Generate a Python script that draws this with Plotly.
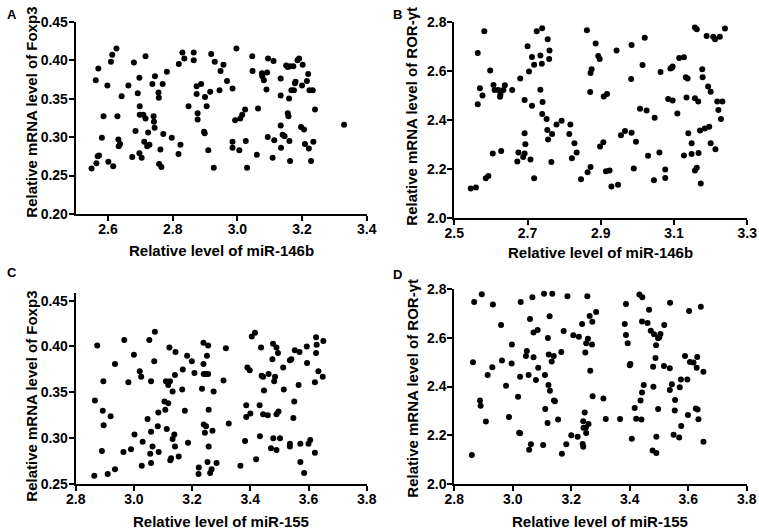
import plotly.graph_objects as go

W, H = 759, 530

# A: miR-146b vs Foxp3
a_x = [2.549, 2.564, 2.568, 2.572, 2.562, 2.570, 2.598, 2.581, 2.586, 2.601,
       2.609, 2.613, 2.616, 2.626, 2.629, 2.632, 2.633, 2.637, 2.642, 2.663,
       2.675, 2.680, 2.685, 2.692, 2.697, 2.698, 2.697, 2.698, 2.704, 2.709,
       2.712, 2.716, 2.716, 2.721, 2.724, 2.728, 2.737, 2.741, 2.742, 2.744,
       2.745, 2.756, 2.757, 2.758, 2.762, 2.765, 2.769, 2.771, 2.782, 2.797,
       2.818, 2.819, 2.824, 2.830, 2.836, 2.849, 2.865, 2.865, 2.874, 2.874,
       2.877, 2.877, 2.888, 2.897, 2.899, 2.900, 2.905, 2.910, 2.916, 2.919,
       2.927, 2.930, 2.945, 2.948, 2.957, 2.968, 2.985, 2.985, 2.985, 2.993,
       2.997, 3.006, 3.009, 3.015, 3.024, 3.026, 3.030, 3.046, 3.047, 3.060,
       3.064, 3.076, 3.077, 3.082, 3.090, 3.092, 3.094, 3.095, 3.109, 3.112,
       3.114, 3.134, 3.134, 3.134, 3.135, 3.140, 3.146, 3.151, 3.156, 3.156,
       3.158, 3.160, 3.161, 3.163, 3.163, 3.167, 3.173, 3.175, 3.178, 3.180,
       3.186, 3.191, 3.197, 3.200, 3.202, 3.206, 3.209, 3.215, 3.219, 3.221,
       3.223, 3.228, 3.233, 3.235, 3.240, 3.330]
a_y = [0.259, 0.266, 0.275, 0.276, 0.374, 0.389, 0.367, 0.299, 0.327, 0.268,
       0.398, 0.407, 0.262, 0.415, 0.327, 0.297, 0.288, 0.291, 0.353, 0.367,
       0.274, 0.397, 0.308, 0.357, 0.377, 0.340, 0.279, 0.329, 0.273, 0.329,
       0.294, 0.324, 0.405, 0.288, 0.306, 0.290, 0.369, 0.327, 0.320, 0.312,
       0.379, 0.358, 0.351, 0.265, 0.284, 0.261, 0.369, 0.304, 0.385, 0.299,
       0.278, 0.395, 0.290, 0.410, 0.402, 0.340, 0.410, 0.400, 0.356, 0.366,
       0.331, 0.323, 0.369, 0.307, 0.305, 0.352, 0.340, 0.283, 0.359, 0.408,
       0.260, 0.398, 0.361, 0.386, 0.394, 0.373, 0.363, 0.294, 0.286, 0.322,
       0.415, 0.283, 0.324, 0.329, 0.336, 0.295, 0.260, 0.405, 0.386, 0.277,
       0.337, 0.383, 0.379, 0.374, 0.362, 0.384, 0.300, 0.402, 0.273, 0.399,
       0.296, 0.376, 0.315, 0.354, 0.286, 0.303, 0.301, 0.393, 0.391, 0.331,
       0.327, 0.350, 0.295, 0.269, 0.392, 0.361, 0.392, 0.361, 0.370, 0.372,
       0.400, 0.402, 0.313, 0.367, 0.394, 0.310, 0.291, 0.373, 0.382, 0.285,
       0.361, 0.269, 0.361, 0.294, 0.336, 0.316]

# B: miR-146b vs ROR-yt
b_x = [2.545, 2.559, 2.564, 2.564, 2.570, 2.577, 2.582, 2.586, 2.593, 2.598,
       2.605, 2.607, 2.610, 2.620, 2.625, 2.626, 2.634, 2.638, 2.628,
       2.658, 2.680, 2.700, 2.704, 2.712, 2.718, 2.725, 2.740, 2.735, 2.739,
       2.755, 2.760, 2.759, 2.735, 2.741, 2.692, 2.712, 2.740, 2.752, 2.779,
       2.793, 2.817, 2.814, 2.828, 2.834, 2.821, 2.692, 2.694, 2.754, 2.767,
       2.756, 2.675, 2.692, 2.688, 2.672, 2.708, 2.765, 2.718, 2.846, 2.864,
       2.872, 2.862, 2.886, 2.893, 2.897, 2.875, 2.872, 2.871, 2.908, 2.917,
       2.898, 2.907, 2.914, 2.924, 2.929, 2.947, 2.943, 2.984, 2.983, 2.955,
       2.966, 2.984, 2.996, 2.990, 3.007, 3.025, 3.020, 3.014, 3.029, 3.047,
       3.060, 3.045, 3.076, 3.076, 3.063, 3.090, 3.094, 3.096, 3.084, 3.096,
       3.114, 3.109,
       3.127, 3.127, 3.132, 3.134, 3.137, 3.139, 3.148, 3.148, 3.157, 3.157,
       3.162, 3.157, 3.162, 3.166, 3.167, 3.171, 3.173, 3.177, 3.178, 3.184,
       3.189, 3.193, 3.196, 3.200, 3.200, 3.207, 3.212, 3.213, 3.218, 3.221,
       3.225, 3.228, 3.232, 3.239]
b_y = [2.121, 2.125, 2.464, 2.673, 2.529, 2.500, 2.761, 2.163, 2.172, 2.601,
       2.264, 2.542, 2.522, 2.522, 2.495, 2.504, 2.522, 2.541, 2.274,
       2.522, 2.569, 2.700, 2.597, 2.656, 2.625, 2.761, 2.773, 2.662, 2.629,
       2.729, 2.683, 2.648, 2.523, 2.473, 2.481, 2.458, 2.424, 2.404, 2.382,
       2.397, 2.382, 2.343, 2.305, 2.268, 2.244, 2.346, 2.301, 2.359, 2.343,
       2.321, 2.268, 2.264, 2.249, 2.231, 2.239, 2.229, 2.163, 2.159, 2.187,
       2.209, 2.765, 2.711, 2.660, 2.648, 2.607, 2.591, 2.514, 2.496, 2.506,
       2.292, 2.309, 2.191, 2.194, 2.129, 2.137, 2.683, 2.705, 2.567, 2.338,
       2.355, 2.348, 2.311, 2.203, 2.446, 2.439, 2.735, 2.624, 2.255, 2.409,
       2.268, 2.155, 2.199, 2.164, 2.595, 2.610, 2.613, 2.618, 2.485, 2.479,
       2.652, 2.426,
       2.256, 2.655, 2.574, 2.492, 2.569, 2.346, 2.305, 2.262, 2.488, 2.776,
       2.769, 2.194, 2.206, 2.475, 2.266, 2.357, 2.142, 2.607, 2.574, 2.365,
       2.742, 2.536, 2.373, 2.515, 2.305, 2.739, 2.729, 2.281, 2.475, 2.441,
       2.739, 2.404, 2.475, 2.772]

# C: miR-155 vs Foxp3
c_x = [2.864, 2.866, 2.874, 2.893, 2.895, 2.896, 2.890, 2.910, 2.920, 2.935,
       2.935, 2.967, 2.964, 2.981, 2.990, 3.000, 3.002, 3.020, 3.027, 3.030,
       3.025, 3.047,
       3.053, 3.072, 3.070, 3.059, 3.059, 3.064, 3.056, 3.059, 3.082, 3.085,
       3.084, 3.105, 3.108, 3.118, 3.110, 3.124, 3.118, 3.133, 3.141, 3.122,
       3.143, 3.113, 3.133, 3.139, 3.141, 3.128, 3.125, 3.154, 3.166, 3.168,
       3.175, 3.183, 3.199, 3.208, 3.186, 3.239, 3.255, 3.251, 3.239, 3.240,
       3.248, 3.255, 3.234, 3.274, 3.308, 3.316, 3.257, 3.240, 3.248, 3.244,
       3.270, 3.257, 3.253, 3.267, 3.262, 3.284, 3.223, 3.222, 3.326, 3.366,
       3.382, 3.386, 3.386, 3.400, 3.390, 3.398, 3.405, 3.416, 3.437, 3.420,
       3.433, 3.439, 3.444, 3.447, 3.432, 3.444, 3.460, 3.463, 3.478, 3.490,
       3.495, 3.476, 3.485, 3.482, 3.490, 3.497, 3.513, 3.515, 3.479, 3.471,
       3.490, 3.502, 3.536, 3.541, 3.553, 3.569, 3.551, 3.566, 3.548, 3.536,
       3.536, 3.572, 3.572, 3.585, 3.594, 3.595, 3.600,
       3.622, 3.622, 3.626, 3.626, 3.628, 3.634, 3.649, 3.651, 3.606]
c_y = [0.259, 0.341, 0.401, 0.330, 0.362, 0.314, 0.286, 0.261, 0.324, 0.266,
       0.381, 0.407, 0.285, 0.361, 0.288, 0.391, 0.304, 0.373, 0.270, 0.296,
       0.367, 0.321,
       0.407, 0.416, 0.384, 0.362, 0.307, 0.291, 0.283, 0.273, 0.313, 0.285,
       0.328, 0.340, 0.331, 0.338, 0.362, 0.362, 0.358, 0.351, 0.369, 0.399,
       0.394, 0.310, 0.299, 0.304, 0.291, 0.278, 0.276, 0.280, 0.353, 0.375,
       0.330, 0.390, 0.384, 0.371, 0.295, 0.404, 0.401, 0.390, 0.381, 0.370,
       0.370, 0.370, 0.354, 0.351, 0.363, 0.398, 0.331, 0.315, 0.313, 0.306,
       0.308, 0.291, 0.274, 0.266, 0.262, 0.273, 0.268, 0.261, 0.316, 0.270,
       0.297, 0.336, 0.323, 0.327, 0.377, 0.374, 0.411, 0.415, 0.399, 0.277,
       0.302, 0.368, 0.367, 0.352, 0.336, 0.326, 0.325, 0.370, 0.403, 0.399,
       0.393, 0.386, 0.367, 0.362, 0.326, 0.329, 0.377, 0.353, 0.300, 0.289,
       0.287, 0.300, 0.385, 0.386, 0.396, 0.394, 0.340, 0.358, 0.322, 0.294,
       0.291, 0.294, 0.274, 0.262, 0.400, 0.382, 0.294,
       0.361, 0.284, 0.393, 0.410, 0.402, 0.373, 0.367, 0.406, 0.298]

# D: miR-155 vs ROR-yt
d_x = [2.860, 2.864, 2.868, 2.894, 2.888, 2.890, 2.908, 2.914, 2.930, 2.932,
       2.960, 2.963, 2.977, 2.987, 2.996, 2.997, 3.018, 3.022,
       3.027, 3.067, 3.107, 3.135, 3.187, 3.255, 3.059, 3.126, 3.071, 3.085,
       3.120, 3.174, 3.207, 3.226, 3.237, 3.263, 3.272, 3.285, 3.257, 3.251,
       3.271, 3.248, 3.048, 3.045, 3.071, 3.123, 3.140, 3.133, 3.166, 3.087,
       3.265, 3.025, 3.054, 3.079, 3.110, 3.122, 3.127, 3.141, 3.144, 3.273,
       3.310, 3.111, 3.119, 3.155, 3.246, 3.241, 3.242, 3.250, 3.259, 3.251,
       3.025, 3.200, 3.222, 3.183, 3.239, 3.241, 3.168, 3.062, 3.056, 3.104,
       3.318, 3.367, 3.387, 3.383, 3.387, 3.393, 3.400, 3.402, 3.433, 3.443,
       3.466, 3.442, 3.461, 3.518, 3.538, 3.603, 3.472, 3.483, 3.497, 3.505,
       3.501, 3.490, 3.488, 3.480, 3.517, 3.537, 3.589, 3.606, 3.448, 3.442,
       3.481, 3.437, 3.417, 3.422, 3.440, 3.497, 3.537, 3.544, 3.571, 3.575,
       3.597, 3.555, 3.554, 3.576, 3.550, 3.569, 3.599, 3.407, 3.491, 3.478,
       3.491,
       3.643, 3.652, 3.652, 3.635, 3.632, 3.626, 3.631, 3.629, 3.618]
d_y = [2.119, 2.499, 2.747, 2.778, 2.343, 2.321, 2.256, 2.447, 2.479, 2.736,
       2.652, 2.507, 2.403, 2.275, 2.494, 2.572, 2.358, 2.210,
       2.747, 2.766, 2.781, 2.781, 2.770, 2.770, 2.677, 2.688, 2.622, 2.632,
       2.599, 2.628, 2.610, 2.604, 2.656, 2.689, 2.666, 2.706, 2.596, 2.577,
       2.572, 2.539, 2.546, 2.525, 2.520, 2.531, 2.525, 2.503, 2.542, 2.477,
       2.465, 2.440, 2.447, 2.427, 2.447, 2.406, 2.383, 2.343, 2.339, 2.360,
       2.351, 2.308, 2.250, 2.265, 2.293, 2.257, 2.231, 2.232, 2.246, 2.209,
       2.208, 2.200, 2.194, 2.163, 2.164, 2.153, 2.124, 2.163, 2.141, 2.160,
       2.267, 2.267, 2.738, 2.656, 2.611, 2.577, 2.487, 2.492, 2.777, 2.766,
       2.715, 2.667, 2.661, 2.652, 2.744, 2.710, 2.629, 2.614, 2.598, 2.615,
       2.602, 2.569, 2.517, 2.481, 2.484, 2.475, 2.525, 2.501, 2.406, 2.375,
       2.399, 2.343, 2.312, 2.268, 2.265, 2.308, 2.386, 2.409, 2.397, 2.429,
       2.429, 2.345, 2.302, 2.238, 2.202, 2.191, 2.283, 2.186, 2.194, 2.137,
       2.127,
       2.727, 2.461, 2.173, 2.266, 2.306, 2.310, 2.521, 2.477, 2.498]

x_titles = ["Relative level of miR-146b", "Relative level of miR-146b",
            "Relative level of miR-155", "Relative level of miR-155"]
y_titles = ["Relative mRNA level of Foxp3", "Relative mRNA level of ROR-γt",
            "Relative mRNA level of Foxp3", "Relative mRNA level of ROR-γt"]
letters = ["A", "B", "C", "D"]

FONT = "Liberation Sans, Arial, sans-serif"

# pixel boxes of each plot area: left, right, top, bottom
boxes = [(75.7, 366.7, 21.7, 214.0),
         (454.3, 747.3, 21.7, 218.3),
         (75.7, 366.7, 293.3, 484.0),
         (454.3, 746.7, 289.0, 484.0)]
x_ranges = [[2.5, 3.4], [2.5, 3.3], [2.8, 3.8], [2.8, 3.8]]
y_ranges = [[0.20, 0.45], [2.0, 2.8], [0.25, 0.458], [2.0, 2.8]]
x_ticks = [[2.6, 2.8, 3.0, 3.2, 3.4], [2.5, 2.7, 2.9, 3.1, 3.3],
           [2.8, 3.0, 3.2, 3.4, 3.6, 3.8], [2.8, 3.0, 3.2, 3.4, 3.6, 3.8]]
y_ticks = [[0.20, 0.25, 0.30, 0.35, 0.40, 0.45], [2.0, 2.2, 2.4, 2.6, 2.8],
           [0.25, 0.30, 0.35, 0.40, 0.45], [2.0, 2.2, 2.4, 2.6, 2.8]]
y_dec = [2, 1, 2, 1]

# title / letter positions in pixels
ytitle_pos = [(31.7, 112), (411.7, 116), (31.7, 396), (411.7, 388)]
xtitle_pos = [(221, 250), (600, 252), (221, 521), (600, 521)]
letter_pos = [(12, 15), (397, 15), (12, 272), (397, 274)]

data = [(a_x, a_y), (b_x, b_y), (c_x, c_y), (d_x, d_y)]


def bold_labels(vals, dec):
    return ["<b>%.*f</b>" % (dec, v) for v in vals]


fig = go.Figure()
layout = {}
annotations = []
for i, (xs, ys) in enumerate(data):
    n = "" if i == 0 else str(i + 1)
    fig.add_trace(go.Scatter(
        x=xs, y=ys, mode="markers", xaxis="x" + n, yaxis="y" + n,
        marker=dict(color="black", size=6), hoverinfo="x+y",
    ))
    l, r, t, b = boxes[i]
    axis_common = dict(
        showline=True, linecolor="black", linewidth=2, mirror=False,
        ticks="outside", ticklen=5, tickwidth=2, tickcolor="black",
        showgrid=False, zeroline=False, automargin=False,
        tickfont=dict(family=FONT, size=14, color="black"),
    )
    layout["xaxis" + n] = dict(
        axis_common, domain=[l / W, r / W], range=x_ranges[i],
        tickmode="array", tickvals=x_ticks[i], ticklabelstandoff=-4,
        ticktext=bold_labels(x_ticks[i], 1), anchor="y" + n,
    )
    layout["yaxis" + n] = dict(
        axis_common, domain=[1 - b / H, 1 - t / H], range=y_ranges[i],
        tickmode="array", tickvals=y_ticks[i], ticklabelstandoff=-2,
        ticktext=bold_labels(y_ticks[i], y_dec[i]), anchor="x" + n,
    )
    tx, ty = xtitle_pos[i]
    annotations.append(dict(
        x=tx / W, y=1 - ty / H, xref="paper", yref="paper", showarrow=False,
        text="<b>%s</b>" % x_titles[i], xanchor="center", yanchor="middle",
        font=dict(family=FONT, size=15, color="black"),
    ))
    tx, ty = ytitle_pos[i]
    annotations.append(dict(
        x=tx / W, y=1 - ty / H, xref="paper", yref="paper", showarrow=False,
        text="<b>%s</b>" % y_titles[i], textangle=-90,
        xanchor="center", yanchor="middle",
        font=dict(family=FONT, size=15, color="black"),
    ))
    tx, ty = letter_pos[i]
    annotations.append(dict(
        x=tx / W, y=1 - ty / H, xref="paper", yref="paper", showarrow=False,
        text="<b>%s</b>" % letters[i], xanchor="center", yanchor="middle",
        font=dict(family=FONT, size=13, color="black"),
    ))

fig.update_layout(
    width=W, height=H, margin=dict(l=0, r=0, t=0, b=0),
    plot_bgcolor="white", paper_bgcolor="white", showlegend=False,
    annotations=annotations, **layout,
)

# drop the page's default body margin so the figure fills the window
fig.write_html("out.html", config={"displayModeBar": False},
               post_script="document.body.style.margin='0';"
                           "document.body.style.overflow='hidden';")
